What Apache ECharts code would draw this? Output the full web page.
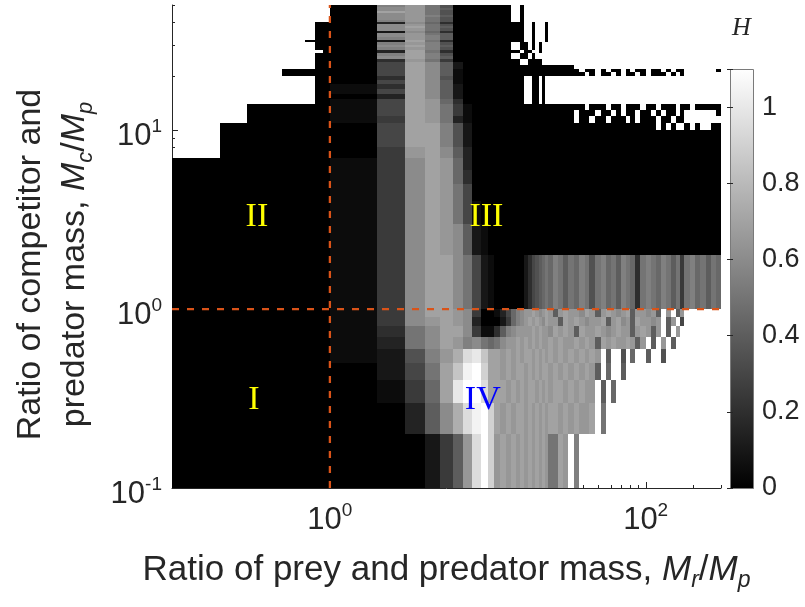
<!DOCTYPE html>
<html>
<head>
<meta charset="utf-8">
<title>Mass ratios and H</title>
<script src="https://cdn.jsdelivr.net/npm/echarts@6/dist/echarts.min.js"></script>
<style>
  html, body { margin: 0; padding: 0; background: #ffffff; }
  #chart { width: 805px; height: 607px; }
</style>
</head>
<body>
<div id="chart"></div>
<script>
// Axis ranges
const xRange = [0.1, 300];
const yRange = [0.1, 50];
const hRange = [0, 1.1];

// Cell edges along the prey / predator mass ratio M_r/M_p
const xEdges = [0.1, 0.2, 0.3, 0.4, 0.5, 0.6, 0.7, 0.8, 0.9, 1,
  2, 3, 4, 5, 6, 7, 8, 9, 10, 11, 12, 13, 14, 15, 16, 17, 18, 19, 20, 21, 22, 23, 24,
  26, 28, 30, 32, 35, 38, 41, 44, 48, 52, 56, 60, 65, 70, 75, 80, 86, 92, 100,
  108, 116, 125, 135, 145, 155, 165, 175, 190, 205, 220, 240, 260, 280, 300];

// Cell edges along the competitor / predator mass ratio M_c/M_p (top row first)
const yEdges = [50, 49, 48, 47, 46, 45, 44, 43, 42, 41, 40, 39, 38, 37, 36, 35, 34, 33, 32, 31,
  30, 29, 28, 27, 26, 25, 24, 23, 22, 21, 20, 19, 18, 17, 16, 15, 14, 13, 12, 11,
  10, 9, 8, 7, 6, 5, 4, 3, 2, 1, 0.9, 0.8, 0.7, 0.6, 0.5, 0.4, 0.3, 0.2, 0.1];

// H level codes: A = 0, every next letter adds 0.05 (W = 1.1); '.' = no value.
// "X*n" repeats a code n times; '|' only separates x < 1, 1..11 and x > 11.
const levelCodes = 'ABCDEFGHIJKLMNOPQRSTUVW';
const levelStep = 0.05;

const hRows = [
  '.*9 | A L N K H A A A A A | A*3 .*2 A .*41',
  '.*9 | A M N K H A A A A A | A*3 .*2 A .*41',
  '.*9 | A M N K I A A A A A | A*3 .*2 A .*41',
  '.*9 | A M N K H A A A A A | A*3 .*2 A .*41',
  '.*9 | A O N K H A A A A A | A*3 .*2 A .*41',
  '.*9 | A M N K H A A A A A | A*3 .*2 A .*41',
  '.*9 | A M N L I A A A A A | A*3 .*2 A .*41',
  '.*9 | A M N K H A A A A A | A*3 .*2 A .*41',
  '.*9 | A M N K H A A A A A | A*3 .*2 A .*41',
  '.*9 | A L N K H A A A A A | A*3 .*2 A .*41',
  '.*7 A*2 | A D M J E A A A A A | A*6 .*2 A .*3 A .*34',
  '.*7 A*2 | A M N K H A A A A A | A*6 .*2 A .*3 A .*34',
  '.*7 A*2 | A M O K I A A A A A | A*6 .*2 A .*3 A .*34',
  '.*7 A*2 | A M N K H A A A A A | A*6 .*2 A .*3 A .*34',
  '.*7 A*2 | A C M J E A A A A A | A*6 .*2 A .*3 A .*34',
  '.*7 A*2 | A M N K I A A A A A | A*6 .*2 A .*3 A .*34',
  '.*7 A*2 | A M N L I A A A A A | A*6 .*2 A .*3 A .*34',
  '.*7 A*2 | A L N L I A A A A A | A*6 .*2 A .*3 A .*34',
  '.*6 A*3 | A C O K E A A A A A | A*6 .*2 A .*3 A .*34',
  '.*7 A*2 | A L N L H A A A A A | A*3 .*2 A*2 . A . A .*36',
  '.*7 A*2 | A M O L I A A A A A | A*3 .*2 A*2 . A . A .*36',
  '.*7 A*2 | A L N L H A A A A A | A*3 .*2 A*2 . A . A .*36',
  '.*8 A | A D O K E A A A A A | A*5 . A*2 . . A .*36',
  '.*7 A*2 | A L O L H A A A A A | A*3 .*2 A*2 . A .*38',
  '.*7 A*2 | A M O L I A A A A A | A*3 .*2 A*2 . A .*38',
  '.*7 A*2 | A E N K F A A A A A | A*5 .*2 A*4 .*36',
  '.*7 A*2 | A G O M I C A A A A | A*5 .*2 A*4 .*36',
  '.*7 A*2 | A G O M I C A A A A | A*18 .*29',
  '.*4 A*5 | A G O M I B A A A A | A*18 A . A A . A . A A . A . A A . A A . A . A A .*6 A',
  '.*4 A*5 | A G O M I B A A A A | A*18 A A . A . A A . A . A A . A . A A A . A . A .*7',
  '.*7 A*2 | A E O M H B A A A A | A*6 .*2 A*2 . A .*35',
  '.*7 A*2 | A G O M I B A A A A | A*6 .*2 A*2 . A .*35',
  '.*7 A*2 | B E O M I C A A A A | A*6 .*2 A*2 . A .*35',
  '.*7 A*2 | B G O M I C A A A A | A*6 .*2 A*2 . A .*35',
  '.*7 A*2 | A D O M I C A A A A | A*6 .*2 A*2 . A .*35',
  '.*7 A*2 | B G O N J E A A A A | A*6 .*2 A*2 . A .*35',
  '.*2 A*7 | B G O N K F B A A A | A*18 A A . A A A . A A . A A A . A A . A A A . A A . A A A A A',
  '.*2 A*7 | B G O N K F B A A A | A*18 . A*2 A . A A . A . A A . A A . A . A A . A . .*5 A',
  '.*2 A*7 | B F O N K D B A A A | A*18 . A*2 . A A . A A A . A . A A A . A A . A A . .*5 .',
  '. A*8 | A G O O L H C A A A | A*34 . A . A . . A . A . . A A',
  '. A*8 | A G O O L H C A A A | A*47',
  '. A*8 | A G O O L H C A A A | A*47',
  '. A*8 | A F N O M I D A A A | A*47',
  'A*9 | B F M O N J D A A A | A*47',
  'A*9 | B F M O N J E A A A | A*47',
  'A*9 | B F M O N K G A A A | A*47',
  'A*9 | B F M O N K G B A A | A*47',
  'A*9 | B F M O N M I C B A | A*47',
  'A*9 | B F M O O M K G C B | A*6 C E G H I J K J L K I K J L K H K L J K I L K J E K L K J L K I K F K L J K I K J',
  'A*9 | B F M O O N M F A A | B D G J L M N N O N M N O N I N O N N M O N I N O N M N O I N N M N I . N . I N . .*6',
  'A*9 | B F M N O N M D A A | A C F J L M N O N O N M O N N I O N O N M N N O I N O M N I O N N M N . I N . G . .*6',
  'A*9 | B E K M O O M F B B | E I L M N N N N O N O N N M O N O N I O N N O N M N O N N I N O N I N . I . N . .*7',
  'A*9 | B D K M O N L M K J | K M N N O N O N O N O N N O N O N N O N O N I O N O N N O N I N . I . N . I .*9',
  'A*9 | B C H L N P T U R O | O N O N O N O O N O N O N O N O N O N O N O N . I . . H . J . . I . . H . .*10',
  'A*9 | A C G K O R V W S O | O N O N O O N O N O N O O N O N O N O N O N I . J . . I .*19',
  'A*9 | A B F J O U W W T O | O O N O N O N O O N O N O N O O N O N O N N . I . J .*21',
  'A*9 | A A D I M P T V W S | O N O N O O N O N O N O N O O N O N O N N O . K .*23',
  'A*9 | A A A C F I N T W S | N O N O N O N O N O N O N K K O N . L .*28'
];

// Axis ticks
const xMajorTicks = [1, 100];
const xMinorTicks = [0.2, 0.3, 0.4, 0.5, 0.6, 0.7, 0.8, 0.9, 2, 3, 4, 5, 6, 7, 8, 9, 10,
  20, 30, 40, 50, 60, 70, 80, 90, 200, 300];
const yMajorTicks = [0.1, 1, 10];
const yMinorTicks = [0.2, 0.3, 0.4, 0.5, 0.6, 0.7, 0.8, 0.9, 2, 3, 4, 5, 6, 7, 8, 9,
  20, 30, 40, 50];
const xLabelPowers = [0, 2];
const yLabelPowers = [-1, 0, 1];

// Threshold ratio drawn as dashed lines
const thresholdRatio = 1;

// Region names and where they sit (data coordinates)
const regionNames = ['I', 'II', 'III', 'IV'];
const regionX = [0.33, 0.345, 9.8, 9.3];
const regionY = [0.31, 3.27, 3.27, 0.31];
const regionColors = ['#ffff00', '#ffff00', '#ffff00', '#0000ff'];

const SANS = '"Liberation Sans", Arial, Helvetica, sans-serif';
const SERIF = '"Liberation Serif", "Times New Roman", serif';
const INK = '#262626';

function expandRow(spec) {
  const levels = [];
  spec.split(/\s+/).forEach(function (tok) {
    if (!tok || tok === '|') return;
    const parts = tok.split('*');
    const n = parts.length > 1 ? parseInt(parts[1], 10) : 1;
    const lv = parts[0] === '.' ? -1 : levelCodes.indexOf(parts[0]);
    for (let i = 0; i < n; i++) levels.push(lv);
  });
  return levels;
}

const cells = [];
hRows.forEach(function (spec, r) {
  expandRow(spec).forEach(function (lv, c) {
    if (lv < 0 || c >= xEdges.length - 1) return;
    cells.push([xEdges[c], xEdges[c + 1], yEdges[r + 1], yEdges[r], lv * levelStep]);
  });
});

const xTickData = xMajorTicks.map(function (v) { return [v, yRange[0], 6]; })
  .concat(xMinorTicks.map(function (v) { return [v, yRange[0], 3]; }));
const yTickData = yMajorTicks.map(function (v) { return [xRange[0], v, 6]; })
  .concat(yMinorTicks.map(function (v) { return [xRange[0], v, 3]; }));
const regionData = regionNames.map(function (n, i) { return [regionX[i], regionY[i], i]; });

function powerLabel(powers) {
  return function (v) {
    const lg = Math.log10(v);
    const e = Math.round(lg);
    if (Math.abs(lg - e) > 1e-6 || powers.indexOf(e) < 0) return '';
    return '{b|10}{s|' + e + '}';
  };
}

const tickRich = {
  b: { fontFamily: SANS, fontSize: 31, lineHeight: 38, color: INK },
  s: { fontFamily: SANS, fontSize: 19, lineHeight: 10, verticalAlign: 'top', color: INK }
};
const nameRich = {
  m: { fontFamily: SANS, fontStyle: 'italic', fontSize: 34, lineHeight: 44, color: INK },
  sub: { fontFamily: SANS, fontStyle: 'italic', fontSize: 22, lineHeight: 14, verticalAlign: 'bottom', color: INK }
};
const xNameRich = {
  m: { fontFamily: SANS, fontStyle: 'italic', fontSize: 35, lineHeight: 44, color: INK },
  sub: { fontFamily: SANS, fontStyle: 'italic', fontSize: 23, lineHeight: 14, verticalAlign: 'bottom', color: INK }
};

const chart = echarts.init(document.getElementById('chart'), null, { renderer: 'canvas' });

chart.setOption({
  animation: false,
  backgroundColor: '#ffffff',
  grid: [
    { left: 172, top: 5, width: 549, height: 483 },
    { left: 730, top: 69, width: 23, height: 419 }
  ],
  xAxis: [
    {
      gridIndex: 0, type: 'log', logBase: 10, min: xRange[0], max: xRange[1],
      axisLine: { show: true, lineStyle: { color: INK, width: 1 } },
      axisTick: { show: false },
      splitLine: { show: false },
      axisLabel: { margin: 13, formatter: powerLabel(xLabelPowers), rich: tickRich, color: INK },
      name: 'Ratio of prey and predator mass, {m|M}{sub|r}/{m|M}{sub|p}',
      nameLocation: 'middle', nameGap: 60,
      nameTextStyle: { fontFamily: SANS, fontSize: 35, lineHeight: 44, color: INK, rich: xNameRich }
    },
    { gridIndex: 1, type: 'value', min: 0, max: 1, show: false }
  ],
  yAxis: [
    {
      gridIndex: 0, type: 'log', logBase: 10, min: yRange[0], max: yRange[1],
      axisLine: { show: true, lineStyle: { color: INK, width: 1 } },
      axisTick: { show: false },
      splitLine: { show: false },
      axisLabel: { margin: 10, padding: [12, 0, 0, 0], formatter: powerLabel(yLabelPowers), rich: tickRich, color: INK },
      name: 'Ratio of competitor and\npredator mass, {m|M}{sub|c}/{m|M}{sub|p}',
      nameLocation: 'middle', nameGap: 75, nameRotate: 90,
      nameTextStyle: {
        fontFamily: SANS, fontSize: 34, lineHeight: 44, color: INK, align: 'center',
        padding: [0, 36, 0, 0], rich: nameRich
      }
    },
    {
      gridIndex: 1, type: 'value', min: hRange[0], max: hRange[1], interval: 0.2, position: 'right', z: 10,
      axisLine: { show: false },
      axisTick: { show: true, inside: true, length: 3, lineStyle: { color: INK } },
      splitLine: { show: false },
      axisLabel: {
        margin: 9, fontFamily: SANS, fontSize: 27, color: INK,
        formatter: function (v) { return v > 1.05 ? '' : String(+v.toFixed(1)); }
      }
    },
    {
      gridIndex: 1, type: 'value', min: hRange[0], max: hRange[1], interval: 0.2, position: 'left', z: 10,
      axisLine: { show: false },
      axisTick: { show: true, inside: true, length: 3, lineStyle: { color: INK } },
      splitLine: { show: false },
      axisLabel: { show: false }
    }
  ],
  visualMap: [{
    type: 'continuous', show: false, seriesIndex: 0, dimension: 4,
    min: hRange[0], max: hRange[1],
    inRange: { color: ['#000000', '#ffffff'] }
  }],
  graphic: [{
    type: 'text', left: 732, top: 15,
    style: { text: 'H', font: 'italic 26px ' + SERIF, fill: INK }
  }],
  series: [
    {
      type: 'custom', name: 'H', xAxisIndex: 0, yAxisIndex: 0, z: 2, silent: true,
      dimensions: ['x0', 'x1', 'y0', 'y1', 'H'],
      encode: { x: [0, 1], y: [2, 3] },
      data: cells,
      renderItem: function (params, api) {
        const a = api.coord([api.value(0), api.value(3)]);
        const b = api.coord([api.value(1), api.value(2)]);
        const x0 = Math.round(a[0]), x1 = Math.round(b[0]);
        const y0 = Math.round(a[1]), y1 = Math.round(b[1]);
        return {
          type: 'rect',
          shape: { x: x0, y: y0, width: x1 - x0, height: y1 - y0 },
          style: { fill: api.visual('color') }
        };
      }
    },
    {
      type: 'custom', xAxisIndex: 0, yAxisIndex: 0, z: 1, silent: true,
      data: xTickData,
      renderItem: function (params, api) {
        const p = api.coord([api.value(0), api.value(1)]);
        const x = Math.round(p[0]) + 0.5;
        return {
          type: 'line',
          shape: { x1: x, y1: p[1], x2: x, y2: p[1] - api.value(2) },
          style: { stroke: INK, lineWidth: 1 }
        };
      }
    },
    {
      type: 'custom', xAxisIndex: 0, yAxisIndex: 0, z: 1, silent: true,
      data: yTickData,
      renderItem: function (params, api) {
        const p = api.coord([api.value(0), api.value(1)]);
        const y = Math.round(p[1]) + 0.5;
        return {
          type: 'line',
          shape: { x1: p[0], y1: y, x2: p[0] + api.value(2), y2: y },
          style: { stroke: INK, lineWidth: 1 }
        };
      }
    },
    {
      type: 'line', xAxisIndex: 0, yAxisIndex: 0, z: 3, silent: true, symbol: 'none',
      data: [[thresholdRatio, yRange[0]], [thresholdRatio, yRange[1]]],
      lineStyle: { color: '#D95319', width: 2.3, type: [7, 8] }
    },
    {
      type: 'line', xAxisIndex: 0, yAxisIndex: 0, z: 3, silent: true, symbol: 'none',
      data: [[xRange[0], thresholdRatio], [xRange[1], thresholdRatio]],
      lineStyle: { color: '#D95319', width: 2.3, type: [7, 8] }
    },
    {
      type: 'custom', xAxisIndex: 0, yAxisIndex: 0, z: 4, silent: true,
      data: regionData,
      renderItem: function (params, api) {
        const p = api.coord([api.value(0), api.value(1)]);
        const i = api.value(2);
        return {
          type: 'text',
          style: {
            x: p[0], y: p[1], text: regionNames[i], fill: regionColors[i],
            font: '34px ' + SERIF, align: 'center', verticalAlign: 'middle'
          }
        };
      }
    },
    {
      type: 'custom', xAxisIndex: 1, yAxisIndex: 1, z: 2, silent: true,
      data: [[0, hRange[0], 1, hRange[1]]],
      encode: { x: [0, 2], y: [1, 3] },
      renderItem: function (params, api) {
        const a = api.coord([api.value(0), api.value(3)]);
        const b = api.coord([api.value(2), api.value(1)]);
        return {
          type: 'rect',
          shape: { x: a[0] + 0.5, y: a[1] + 0.5, width: b[0] - a[0], height: b[1] - a[1] },
          style: {
            fill: new echarts.graphic.LinearGradient(0, 0, 0, 1, [
              { offset: 0, color: '#ffffff' }, { offset: 1, color: '#000000' }
            ]),
            stroke: '#7a7a7a', lineWidth: 1
          }
        };
      }
    }
  ]
});
</script>
</body>
</html>
